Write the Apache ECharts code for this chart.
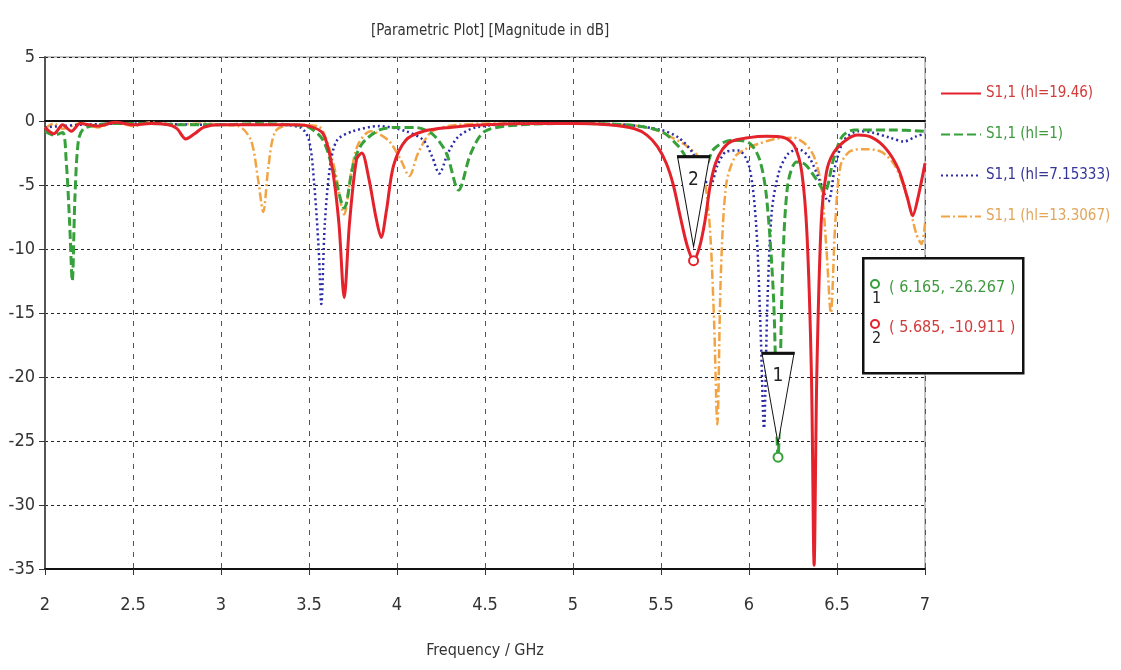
<!DOCTYPE html>
<html lang="en">

<head>
    <meta charset="UTF-8">
    <title>Parametric Plot</title>
    <script src="https://cdn.jsdelivr.net/npm/echarts@6/dist/echarts.min.js"></script>
    <style>
        html, body { margin: 0; padding: 0; background: #fff; }
        #chart { width: 1121px; height: 670px; }
    </style>
</head>

<body>
    <div id="chart"></div>

    <script>
        // S1,1 (hl=19.46) - solid red
        const redFreq = [2.0, 2.05, 2.1, 2.15, 2.2, 2.3, 2.4, 2.5, 2.6, 2.7, 2.75, 2.8, 2.85, 2.9, 3.0, 3.2, 3.4, 3.5, 3.58, 3.63, 3.67, 3.7, 3.73, 3.77, 3.8, 3.84, 3.88, 3.91, 3.94, 3.98, 4.05, 4.15, 4.3, 4.5, 4.8, 5.0, 5.2, 5.35, 5.42, 5.48, 5.53, 5.57, 5.61, 5.65, 5.685, 5.72, 5.75, 5.78, 5.81, 5.85, 5.9, 6.0, 6.1, 6.2, 6.26, 6.3, 6.33, 6.355, 6.37, 6.385, 6.41, 6.44, 6.48, 6.55, 6.62, 6.7, 6.78, 6.85, 6.9, 6.93, 6.96, 7.0];
        const redDb = [-0.5, -1.0, -0.3, -0.8, -0.2, -0.4, -0.1, -0.3, -0.2, -0.3, -0.6, -1.4, -1.0, -0.5, -0.3, -0.3, -0.3, -0.4, -1.0, -3.5, -8, -13.8, -8, -3.0, -2.5, -4.5, -7.5, -9.1, -7, -3.5, -1.5, -0.8, -0.5, -0.3, -0.2, -0.2, -0.3, -0.6, -1.1, -2.0, -3.3, -5, -7.5, -9.8, -10.911, -9.8, -7.8, -5, -3.3, -2.2, -1.6, -1.3, -1.2, -1.3, -2, -4, -9, -20, -34.7, -20, -8, -4, -2.5, -1.5, -1.1, -1.3, -2.2, -3.8, -6, -7.4, -6, -3.3];

        // S1,1 (hl=1) - dashed green
        const greenFreq = [2.0, 2.05, 2.1, 2.12, 2.14, 2.155, 2.17, 2.19, 2.22, 2.3, 2.4, 2.6, 2.8, 3.0, 3.2, 3.4, 3.5, 3.58, 3.64, 3.7, 3.75, 3.8, 3.9, 4.0, 4.1, 4.2, 4.28, 4.35, 4.42, 4.5, 4.7, 5.0, 5.3, 5.5, 5.6, 5.68, 5.74, 5.8, 5.9, 6.0, 6.06, 6.1, 6.14, 6.165, 6.19, 6.22, 6.27, 6.32, 6.38, 6.43, 6.48, 6.53, 6.6, 6.8, 7.0];
        const greenDb = [-0.8, -1.1, -0.9, -3, -8, -12.5, -6, -1.5, -0.6, -0.3, -0.2, -0.2, -0.3, -0.3, -0.2, -0.3, -0.5, -1.5, -4, -6.8, -3.5, -1.8, -0.7, -0.5, -0.5, -1.0, -2.5, -5.4, -2.5, -0.8, -0.3, -0.2, -0.3, -0.8, -2.0, -3.5, -3.8, -2.2, -1.5, -1.7, -3, -6, -14, -26.267, -12, -5, -3.2, -3.4, -4.5, -5.5, -3, -1.2, -0.7, -0.7, -0.8];

        // S1,1 (hl=7.15333) - dotted blue
        const blueFreq = [2.0, 2.2, 2.5, 3.0, 3.3, 3.45, 3.5, 3.53, 3.555, 3.57, 3.59, 3.62, 3.66, 3.75, 3.9, 4.05, 4.15, 4.2, 4.24, 4.29, 4.35, 4.45, 4.7, 5.0, 5.3, 5.5, 5.6, 5.68, 5.74, 5.78, 5.82, 5.87, 5.94, 6.0, 6.04, 6.065, 6.085, 6.105, 6.13, 6.17, 6.22, 6.28, 6.34, 6.4, 6.45, 6.49, 6.54, 6.62, 6.7, 6.8, 6.88, 6.95, 7.0];
        const blueDb = [-0.5, -0.3, -0.2, -0.3, -0.3, -0.5, -1.5, -5, -10, -14.3, -8, -3.5, -1.5, -0.8, -0.4, -0.8, -1.5, -2.8, -4.1, -2.5, -1.2, -0.5, -0.2, -0.2, -0.3, -0.7, -1.3, -2.5, -4.5, -5, -3.5, -2.4, -2.3, -3.5, -8, -16, -24, -14, -7, -4, -2.6, -2.2, -2.8, -4.6, -6.3, -3.5, -1.5, -0.8, -0.9, -1.3, -1.6, -1.2, -1.0];

        // S1,1 (hl=13.3067) - dash-dot orange
        const orangeFreq = [2.0, 2.05, 2.1, 2.2, 2.3, 2.4, 2.5, 2.6, 2.7, 2.9, 3.0, 3.1, 3.17, 3.21, 3.24, 3.27, 3.31, 3.4, 3.55, 3.6, 3.65, 3.7, 3.74, 3.78, 3.85, 3.95, 4.02, 4.07, 4.12, 4.2, 4.35, 4.6, 5.0, 5.3, 5.45, 5.55, 5.65, 5.72, 5.77, 5.8, 5.82, 5.84, 5.87, 5.92, 5.98, 6.05, 6.15, 6.25, 6.32, 6.37, 6.41, 6.44, 6.465, 6.49, 6.52, 6.57, 6.65, 6.75, 6.83, 6.9, 6.95, 6.98, 7.0];
        const orangeDb = [-0.6, -0.2, -0.6, -0.2, -0.5, -0.1, -0.4, -0.1, -0.3, -0.2, -0.3, -0.4, -1.5, -4.5, -7.1, -3.5, -0.8, -0.3, -0.4, -1.5, -4, -7.3, -4, -1.8, -0.8, -1.5, -3, -4.3, -2.5, -0.8, -0.3, -0.2, -0.2, -0.3, -0.6, -1.2, -2.0, -3.0, -7, -15, -23.7, -12, -5, -2.8, -2.2, -1.8, -1.4, -1.3, -1.8, -2.8, -5, -10, -15, -8, -3.5, -2.4, -2.2, -2.4, -3.5, -6, -8.8, -9.6, -8];

        const seriesNames = ['S1,1 (hl=19.46)', 'S1,1 (hl=1)', 'S1,1 (hl=7.15333)', 'S1,1 (hl=13.3067)'];
        const seriesColors = ['#e3222b', '#36a03a', '#2b2ba8', '#f2a444'];
        const legendTextColors = ['#d23a3a', '#3d9a3d', '#34349a', '#e2a55a'];

        // markers: [freq, dB]
        const marker1 = [6.165, -26.267];
        const marker2 = [5.685, -10.911];

        const xTicks = { min: 2, max: 7, interval: 0.5 };
        const yTicks = { min: -35, max: 5, interval: 5 };

        const narrow = '"Liberation Sans Narrow", "DejaVu Sans Condensed", "Arial Narrow", sans-serif';

        function pairs(xs, ys) {
            return xs.map((x, i) => [x, ys[i]]);
        }

        // inverted triangle marker with its number
        function triangleMark(coord, label) {
            return [
                {
                    coord: coord,
                    symbol: 'path://M0,0 L34,0 L17,90 Z',
                    symbolSize: [32, 90],
                    symbolOffset: [0, -59],
                    itemStyle: { color: '#fff', borderColor: '#111', borderWidth: 1.5 },
                    label: {
                        show: true, formatter: label, color: '#222', fontSize: 19,
                        fontFamily: narrow, offset: [0, -22]
                    }
                },
                {
                    coord: coord,
                    symbol: 'rect',
                    symbolSize: [33, 3],
                    symbolOffset: [0, -104],
                    itemStyle: { color: '#111' },
                    label: { show: false }
                }
            ];
        }

        function circleMark(coord, color) {
            return {
                coord: coord,
                symbol: 'circle',
                symbolSize: 9,
                itemStyle: { color: '#fff', borderColor: color, borderWidth: 2 },
                label: { show: false }
            };
        }

        var chartDom = document.getElementById('chart');
        var myChart = echarts.init(chartDom);

        const lineTypes = ['solid', [9, 4], [2, 3], [9, 3, 2, 3]];
        const lineWidths = [3, 3, 2.5, 2.5];
        const dataSets = [pairs(redFreq, redDb), pairs(greenFreq, greenDb), pairs(blueFreq, blueDb), pairs(orangeFreq, orangeDb)];

        const series = dataSets.map((d, i) => ({
            name: seriesNames[i],
            type: 'line',
            data: d,
            smooth: 0.3,
            showSymbol: false,
            symbol: 'none',
            color: seriesColors[i],
            lineStyle: { color: seriesColors[i], width: lineWidths[i], type: lineTypes[i] },
            z: 10 - i
        }));

        // red on top
        series[0].z = 12;
        series[0].markPoint = {
            silent: true,
            z: 30,
            data: triangleMark(marker2, '2').concat([circleMark(marker2, seriesColors[0])])
        };
        series[1].markPoint = {
            silent: true,
            z: 30,
            data: triangleMark(marker1, '1').concat([circleMark(marker1, seriesColors[1])])
        };

        const boxFont = '16px ' + narrow;

        var option = {
            animation: false,
            backgroundColor: '#fff',
            title: {
                text: '[Parametric Plot] [Magnitude in dB]',
                left: 366,
                top: 19,
                textStyle: { fontFamily: narrow, fontWeight: 'normal', fontSize: 15, color: '#333' }
            },
            legend: {
                orient: 'vertical',
                left: 935,
                top: 81,
                itemWidth: 40,
                itemHeight: 14,
                itemGap: 26,
                itemStyle: { opacity: 0 },
                data: seriesNames.map((n, i) => ({
                    name: n,
                    textStyle: { color: legendTextColors[i] }
                })),
                textStyle: { fontFamily: narrow, fontSize: 15 }
            },
            grid: {
                left: 45, right: 196, top: 57, bottom: 101,
                show: true, borderColor: '#888', borderWidth: 1
            },
            xAxis: [
                {
                    type: 'value',
                    min: xTicks.min, max: xTicks.max, interval: xTicks.interval,
                    name: 'Frequency / GHz',
                    nameLocation: 'middle',
                    nameGap: 74,
                    nameTextStyle: { fontFamily: narrow, fontSize: 16, color: '#333' },
                    axisLine: { show: true, onZero: false, lineStyle: { color: '#111', width: 2 } },
                    axisTick: { show: true, length: 6, lineStyle: { color: '#333' } },
                    axisLabel: { fontFamily: narrow, fontSize: 18, color: '#333', margin: 27 },
                    splitLine: { show: true, lineStyle: { color: '#555', type: [5, 6], width: 1 } }
                },
                {
                    type: 'value', position: 'top',
                    min: xTicks.min, max: xTicks.max, interval: xTicks.interval,
                    axisLine: { show: true, lineStyle: { color: '#111', width: 2 } },
                    axisTick: { show: false },
                    axisLabel: { show: false },
                    splitLine: { show: false }
                }
            ],
            yAxis: {
                type: 'value',
                min: yTicks.min, max: yTicks.max, interval: yTicks.interval,
                axisLine: { show: true, onZero: false, lineStyle: { color: '#555', width: 2 } },
                axisTick: { show: true, length: 6, lineStyle: { color: '#333' } },
                axisLabel: { fontFamily: narrow, fontSize: 18, color: '#333', margin: 10 },
                splitLine: { show: true, lineStyle: { color: '#222', type: [3, 3], width: 1 } }
            },
            series: series,
            graphic: [
                {
                    type: 'rect', left: 862, top: 257, z: 100,
                    shape: { width: 160, height: 115 },
                    style: { fill: '#fff', stroke: '#111', lineWidth: 2.5 }
                },
                {
                    type: 'circle', z: 101, shape: { cx: 875, cy: 284, r: 4 },
                    style: { fill: '#fff', stroke: seriesColors[1], lineWidth: 2 }
                },
                {
                    type: 'text', left: 872, top: 291, z: 101,
                    style: { text: '1', font: '16px ' + narrow, fill: '#222' }
                },
                {
                    type: 'text', left: 889, top: 280, z: 101,
                    style: { text: '( ' + marker1[0].toFixed(3) + ', ' + marker1[1].toFixed(3) + ' )', font: boxFont, fill: legendTextColors[1] }
                },
                {
                    type: 'circle', z: 101, shape: { cx: 875, cy: 324, r: 4 },
                    style: { fill: '#fff', stroke: seriesColors[0], lineWidth: 2 }
                },
                {
                    type: 'text', left: 872, top: 331, z: 101,
                    style: { text: '2', font: '16px ' + narrow, fill: '#222' }
                },
                {
                    type: 'text', left: 889, top: 320, z: 101,
                    style: { text: '( ' + marker2[0].toFixed(3) + ', ' + marker2[1].toFixed(3) + ' )', font: boxFont, fill: legendTextColors[0] }
                }
            ]
        };

        myChart.setOption(option);
    </script>

</body>

</html>
